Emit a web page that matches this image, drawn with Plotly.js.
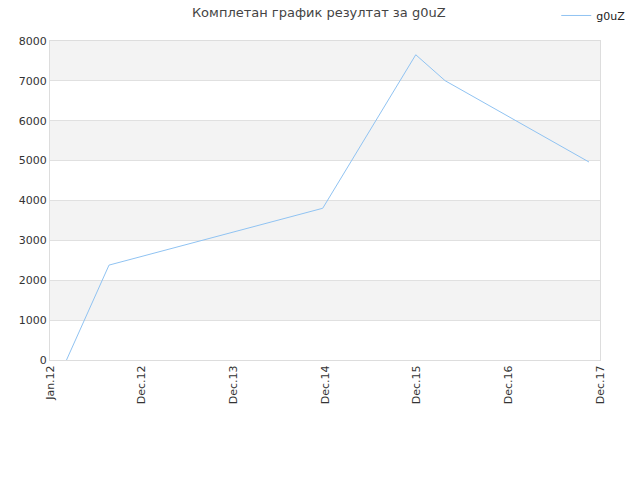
<!DOCTYPE html>
<html>
<head>
<meta charset="utf-8">
<script src="https://cdn.plot.ly/plotly-3.0.1.min.js"></script>
<style>html,body{margin:0;padding:0;background:#fff;}#chart{width:640px;height:480px;}</style>
</head>
<body>
<div id="chart"></div>
<script>
var tickLabels = ["Jan.12", "Dec.12", "Dec.13", "Dec.14", "Dec.15", "Dec.16", "Dec.17"];
var tickPositions = [0, 1, 2, 3, 4, 5, 6];
var seriesX = [0.18, 0.644, 2.975, 3.99, 4.31, 5.88];
var seriesY = [0, 2380, 3805, 7655, 7005, 4965];
var seriesName = "g0uZ";
var bandStarts = [1000, 3000, 5000, 7000];
var bandSize = 1000;

var shapes = bandStarts.map(function (b) {
  return {type: "rect", xref: "paper", yref: "y", x0: 0, x1: 1, y0: b, y1: b + bandSize,
          fillcolor: "#f3f3f3", line: {width: 0}, layer: "below"};
});

var trace = {
  x: seriesX, y: seriesY, name: seriesName, type: "scatter", mode: "lines",
  line: {color: "#90c3f2", width: 1}
};

var layout = {
  width: 640, height: 480,
  margin: {l: 50, r: 40, t: 41, b: 120, autoexpand: false},
  paper_bgcolor: "#fff", plot_bgcolor: "#fff",
  font: {family: "DejaVu Sans, sans-serif", size: 11, color: "#333"},
  title: {text: "Комплетан график резултат за g0uZ", x: 0.498, xanchor: "center", y: 0.975, yanchor: "middle",
          font: {size: 13, color: "#444"}},
  showlegend: true,
  legend: {x: 1.055, xanchor: "right", y: 1.08, yanchor: "middle", font: {size: 11, color: "#222"},
           bgcolor: "rgba(0,0,0,0)", itemwidth: 30},
  xaxis: {range: [0, 6], tickvals: tickPositions, ticktext: tickLabels, tickangle: -90,
          showgrid: false, zeroline: false, showline: true, linecolor: "#ddd", mirror: true,
          ticks: "", fixedrange: true, tickfont: {size: 11, color: "#333"}},
  yaxis: {range: [0, 8000], dtick: 1000, showgrid: true, gridcolor: "#e0e0e0", zeroline: false,
          showline: true, linecolor: "#ddd", mirror: true, ticks: "", ticklen: 0,
          tickfont: {size: 11, color: "#333"}, tickformat: "d"},
  shapes: shapes
};

Plotly.newPlot("chart", [trace], layout, {displayModeBar: false, staticPlot: true});
</script>
</body>
</html>
